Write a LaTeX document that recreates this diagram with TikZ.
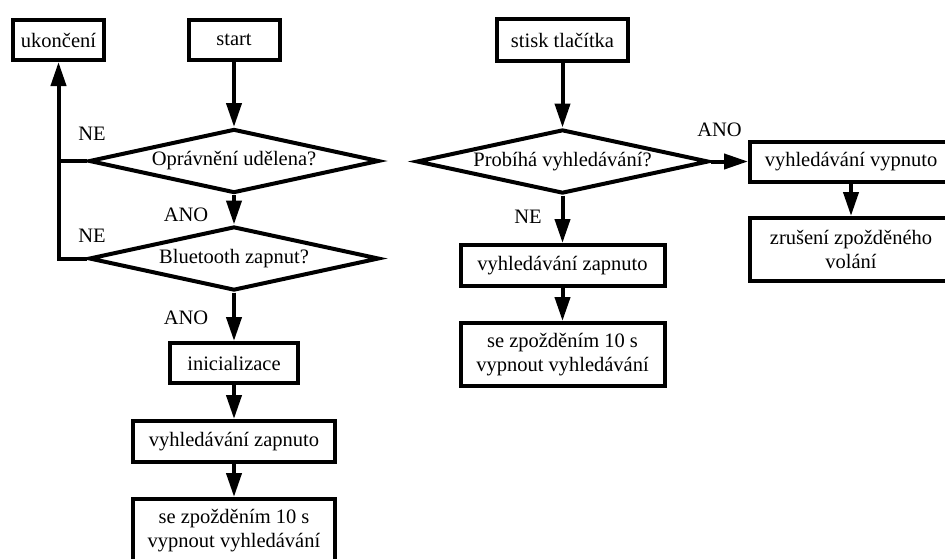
\documentclass[tikz,border=0pt]{standalone}
\usepackage{fontspec}
\setmainfont{Liberation Serif}
\usetikzlibrary{shapes.geometric,arrows.meta}
\begin{document}
\begin{tikzpicture}[x=1pt,y=-1pt,
  txt/.style={font=\fontsize{20.5}{23.5}\selectfont},
  box/.style={txt,draw,line width=4pt,inner sep=0pt,align=center},
  dec/.style={txt,draw,diamond,line width=4pt,inner sep=0pt,aspect=4.4,minimum height=64pt},
  lab/.style={txt,inner sep=0pt},
  arr/.style={line width=4pt,-{Triangle[length=24pt,width=15pt]}},
  ln/.style={line width=4pt}]
\useasboundingbox (0,0) rectangle (945,558);
% left column
\node[box,minimum width=91pt,minimum height=40pt] (uk) at (58.5,40) {ukončení};
\node[box,minimum width=91pt,minimum height=40pt] (start) at (234,40) {start};
\node[dec,minimum width=290pt] (d1) at (234,161) {Oprávnění udělena?};
\node[dec,minimum width=290pt] (d2) at (234,258.5) {Bluetooth zapnut?};
\node[box,minimum width=128pt,minimum height=40pt] (init) at (234,363) {inicializace};
\node[box,minimum width=202pt,minimum height=41pt] (vz) at (234,441.5) {vyhledávání zapnuto};
\node[box,minimum width=202pt,minimum height=63pt] (sz) at (234,530.5) {se zpožděním 10 s\\vypnout vyhledávání};
\coordinate (c1) at (uk.south |- d1.west);
\draw[arr] (start) -- (d1);
\draw[arr] (d1) -- (d2);
\draw[arr] (d2) -- (init);
\draw[arr] (init) -- (vz);
\draw[arr] (vz) -- (sz);
\draw[ln] (d1.west) -- (c1);
\draw[arr] (d2.west) -| (uk.south);
\node[lab] (ne1) at (92,134) {NE};
\node[lab] (ne2) at (92,236) {NE};
\node[lab] (ano1) at (186,215) {ANO};
\node[lab] (ano2) at (186,318) {ANO};
% right part
\node[box,minimum width=131pt,minimum height=42pt] (st) at (562.5,40) {stisk tlačítka};
\node[dec,minimum width=292pt] (d3) at (562.5,161.5) {Probíhá vyhledávání?};
\node[box,minimum width=202pt,minimum height=40pt] (vvyp) at (851,161.5) {vyhledávání vypnuto};
\node[box,minimum width=202pt,minimum height=63pt] (zr) at (851,249.5) {zrušení zpožděného\\volání};
\node[box,minimum width=204pt,minimum height=41pt] (vz2) at (562.5,265.5) {vyhledávání zapnuto};
\node[box,minimum width=204pt,minimum height=63pt] (sz2) at (562.5,354.5) {se zpožděním 10 s\\vypnout vyhledávání};
\draw[arr] (st) -- (d3);
\draw[arr] (d3) -- (vvyp);
\draw[arr] (vvyp) -- (zr);
\draw[arr] (d3) -- (vz2);
\draw[arr] (vz2) -- (sz2);
\node[lab] (ano3) at (719.5,130) {ANO};
\node[lab] (ne3) at (528,216.5) {NE};
\end{tikzpicture}
\end{document}
